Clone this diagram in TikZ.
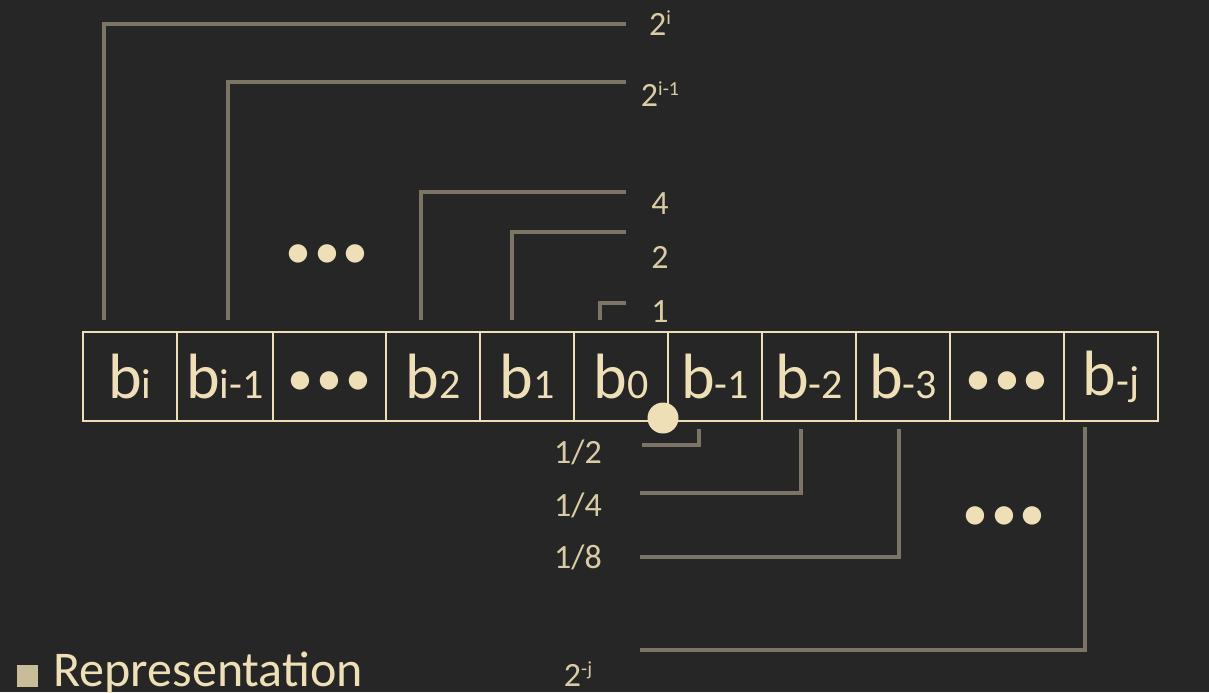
\documentclass[tikz,border=0pt]{standalone}
\usepackage{fontspec}
\setmainfont{Carlito}
\definecolor{bgc}{HTML}{262626}
\definecolor{cream}{HTML}{EEDFB6}
\definecolor{lbl}{HTML}{D9CCA5}
\definecolor{conn}{HTML}{7C7464}
\definecolor{sq}{HTML}{C9BC99}
\newcommand{\bsym}[1]{{\fontsize{32}{36}\selectfont b}{\fontsize{21}{24}\selectfont #1}}
\newcommand{\mysup}[1]{\raisebox{5.5pt}{\fontsize{10}{12}\selectfont #1}}
\newcommand{\threedots}{•\hspace{1.5pt}•\hspace{1.5pt}•}
\newcommand{\celldots}{\raisebox{-3.5pt}[\height][\depth]{•\hspace{1.5pt}•\hspace{1.5pt}•}}
\tikzset{
  cell/.style={draw=cream, line width=1pt, text=cream, minimum height=44.5pt, inner sep=0pt},
  wire/.style={draw=conn, line width=1.75pt},
  lab/.style={text=lbl, anchor=base, inner sep=0pt, font=\fontsize{17}{20}\selectfont},
  dots/.style={text=cream, inner sep=0pt, font=\fontsize{26}{30}\selectfont}
}
\begin{document}
\begin{tikzpicture}[x=0.5pt,y=-0.5pt]
\fill[bgc] (0,0) rectangle (1209,692);
\useasboundingbox (0,0) rectangle (1209,692);
% cells
\node[cell, minimum width=47pt] (c1) at (130,376.5) {\bsym{i}};
\node[cell, minimum width=48pt] (c2) at (225,376.5) {\bsym{i-1}};
\node[cell, minimum width=56.5pt, font=\fontsize{26}{30}\selectfont] (c3) at (329.5,376.5) {\celldots};
\node[cell, minimum width=47pt] (c4) at (433,376.5) {\bsym{2}};
\node[cell, minimum width=47pt] (c5) at (527,376.5) {\bsym{1}};
\node[cell, minimum width=47pt] (c6) at (621,376.5) {\bsym{0}};
\node[cell, minimum width=47pt] (c7) at (715,376.5) {\bsym{-1}};
\node[cell, minimum width=47pt] (c8) at (809,376.5) {\bsym{-2}};
\node[cell, minimum width=47pt] (c9) at (903,376.5) {\bsym{-3}};
\node[cell, minimum width=57pt, font=\fontsize{26}{30}\selectfont] (c10) at (1007,376.5) {\celldots};
\node[cell, minimum width=47pt] (c11) at (1111,376.5) {\bsym{-j}};
% binary point
\node[circle, fill=cream, minimum size=15.5pt, inner sep=0pt] (pt) at (663,418) {};
% upper labels
\node[lab] (l1) at (660,35) {2\mysup{i}};
\node[lab] (l2) at (660,106) {2\mysup{i-1}};
\node[lab] (l3) at (660,214) {4};
\node[lab] (l4) at (660,268) {2};
\node[lab] (l5) at (660,322) {1};
% lower labels
\node[lab] (m1) at (578,463) {1/2};
\node[lab] (m2) at (578,516) {1/4};
\node[lab] (m3) at (578,568) {1/8};
\node[lab] (m4) at (578,686) {2\mysup{-j}};
% dots
\node[dots] (d1) at (327,257) {\threedots};
\node[dots] (d2) at (1004,519) {\threedots};
% connector ends
\coordinate (s1) at (104,320); \coordinate (e1) at (626,24);
\coordinate (s2) at (228,320); \coordinate (e2) at (626,82);
\coordinate (s4) at (421,320); \coordinate (e4) at (626,192);
\coordinate (s5) at (512,320); \coordinate (e5) at (626,232);
\coordinate (s6) at (600,320); \coordinate (e6) at (626,303);
\coordinate (s7) at (699,429); \coordinate (e7) at (642,445);
\coordinate (s8) at (801,429); \coordinate (e8) at (640,493);
\coordinate (s9) at (899,429); \coordinate (e9) at (640,557);
\coordinate (s11) at (1085,427); \coordinate (e11) at (640,650);
\draw[wire] (s1) |- (e1);
\draw[wire] (s2) |- (e2);
\draw[wire] (s4) |- (e4);
\draw[wire] (s5) |- (e5);
\draw[wire] (s6) |- (e6);
\draw[wire] (s7) |- (e7);
\draw[wire] (s8) |- (e8);
\draw[wire] (s9) |- (e9);
\draw[wire] (s11) |- (e11);
% title
\fill[sq] (17,665) rectangle (38,687);
\node[anchor=base west, text=cream, inner sep=0pt, font=\fontsize{25}{29}\selectfont] (rep) at (53,686) {Representation};
\end{tikzpicture}
\end{document}
